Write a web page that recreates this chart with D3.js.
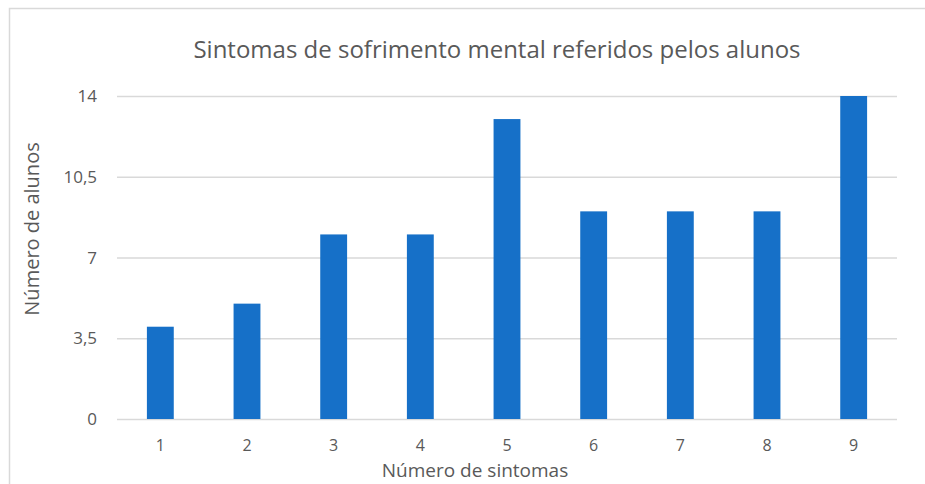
<!DOCTYPE html>
<html>
<head>
<meta charset="utf-8">
<script src="https://cdn.jsdelivr.net/npm/d3@7"></script>
<style>
  body { margin: 0; background: #fff; }
  svg { display: block; font-family: "Open Sans", "Noto Sans", sans-serif; }
</style>
</head>
<body>
<div id="chart"></div>
<script>
var categories = ["1", "2", "3", "4", "5", "6", "7", "8", "9"];
var values = [4, 5, 8, 8, 13, 9, 9, 9, 14];
var yTicks = [0, 3.5, 7, 10.5, 14];

var W = 925, H = 484;
var margin = {top: 96, right: 28, bottom: 65, left: 117};

var svg = d3.select("#chart").append("svg")
    .attr("width", W)
    .attr("height", H);

// chart frame
svg.append("rect")
    .attr("x", 9.5).attr("y", 8.5)
    .attr("width", W + 10).attr("height", H + 10)
    .attr("fill", "#fff")
    .attr("stroke", "#d9d9d9")
    .attr("stroke-width", 1.5);

var x = d3.scaleBand()
    .domain(categories)
    .range([margin.left, W - margin.right])
    .paddingInner(0.69)
    .paddingOuter(0.345);

var y = d3.scaleLinear()
    .domain([0, 14])
    .range([H - margin.bottom, margin.top]);

var fmt = function(d) { return String(d).replace(".", ","); };

// gridlines
svg.append("g")
    .selectAll("line")
    .data(yTicks)
    .enter().append("line")
    .attr("x1", margin.left)
    .attr("x2", W - margin.right)
    .attr("y1", function(d) { return y(d) + 0.5; })
    .attr("y2", function(d) { return y(d) + 0.5; })
    .attr("stroke", "#d9d9d9")
    .attr("stroke-width", 1.5);

// y tick labels
svg.append("g")
    .selectAll("text")
    .data(yTicks)
    .enter().append("text")
    .attr("x", 97)
    .attr("y", function(d) { return y(d); })
    .attr("dy", "0.36em")
    .attr("text-anchor", "end")
    .attr("fill", "#595959")
    .style("font-size", "17px")
    .text(fmt);

// bars
svg.append("g")
    .selectAll("rect")
    .data(values)
    .enter().append("rect")
    .attr("x", function(d, i) { return x(categories[i]); })
    .attr("width", x.bandwidth())
    .attr("y", function(d) { return y(d); })
    .attr("height", function(d) { return y(0) - y(d); })
    .attr("fill", "#1670c8");

// x tick labels
svg.append("g")
    .selectAll("text")
    .data(categories)
    .enter().append("text")
    .attr("x", function(d) { return x(d) + x.bandwidth() / 2; })
    .attr("y", 451)
    .attr("text-anchor", "middle")
    .attr("fill", "#595959")
    .style("font-size", "16px")
    .text(function(d) { return d; });

// title
svg.append("text")
    .attr("x", 497)
    .attr("y", 58)
    .attr("text-anchor", "middle")
    .attr("fill", "#595959")
    .style("font-size", "24px")
    .text("Sintomas de sofrimento mental referidos pelos alunos");

// axis titles
svg.append("text")
    .attr("transform", "translate(39," + 229 + ") rotate(-90)")
    .attr("text-anchor", "middle")
    .attr("fill", "#595959")
    .style("font-size", "20px")
    .text("Número de alunos");

svg.append("text")
    .attr("x", 475)
    .attr("y", 477)
    .attr("text-anchor", "middle")
    .attr("fill", "#595959")
    .style("font-size", "19px")
    .text("Número de sintomas");
</script>
</body>
</html>
